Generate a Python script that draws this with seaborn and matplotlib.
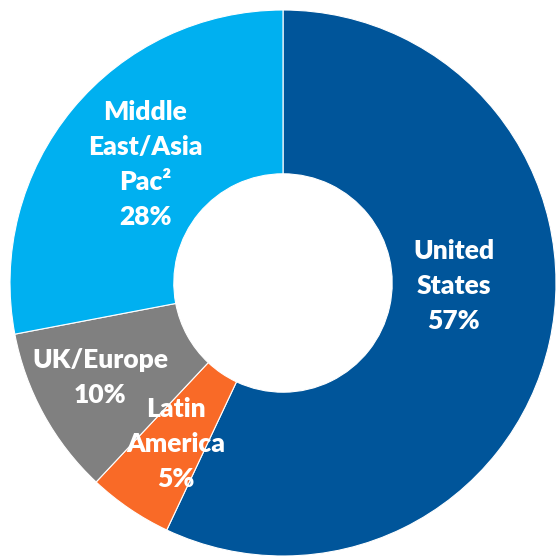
import matplotlib
matplotlib.use("Agg")
import matplotlib.pyplot as plt
import seaborn as sns

# Data
regions = ["United\nStates", "Latin\nAmerica", "UK/Europe", "Middle\nEast/Asia\nPac²"]
shares = [57, 5, 10, 28]
colors = ["#00559A", "#F96A27", "#808080", "#00B0F0"]

# label anchor positions (in pie-radius units)
label_pos = [(0.626, -0.012), (-0.392, -0.590), (-0.670, -0.345), (-0.504, 0.434)]

sns.set_theme(style="white")
plt.rcParams['font.family'] = ['Lato', 'DejaVu Sans']

fig = plt.figure(figsize=(5.56, 5.57), dpi=100)
ax = fig.add_axes([0, 0, 1, 1])
wedges, _ = ax.pie(
    shares, colors=colors, startangle=90, counterclock=False,
    radius=1.0, wedgeprops=dict(width=0.6, edgecolor="white", linewidth=0.8),
)
for name, val, (x, y) in zip(regions, shares, label_pos):
    ax.text(x, y, f"{name}\n{val}%", ha="center", va="center", multialignment="center",
            color="white", fontsize=19, fontweight="heavy", linespacing=1.56)

ax.set_xlim(-283 / 273, 273 / 273)
ax.set_ylim(-274 / 273, 283 / 273)
ax.set_aspect("auto")
ax.axis("off")
fig.savefig("out.png", dpi=100, facecolor="white")
